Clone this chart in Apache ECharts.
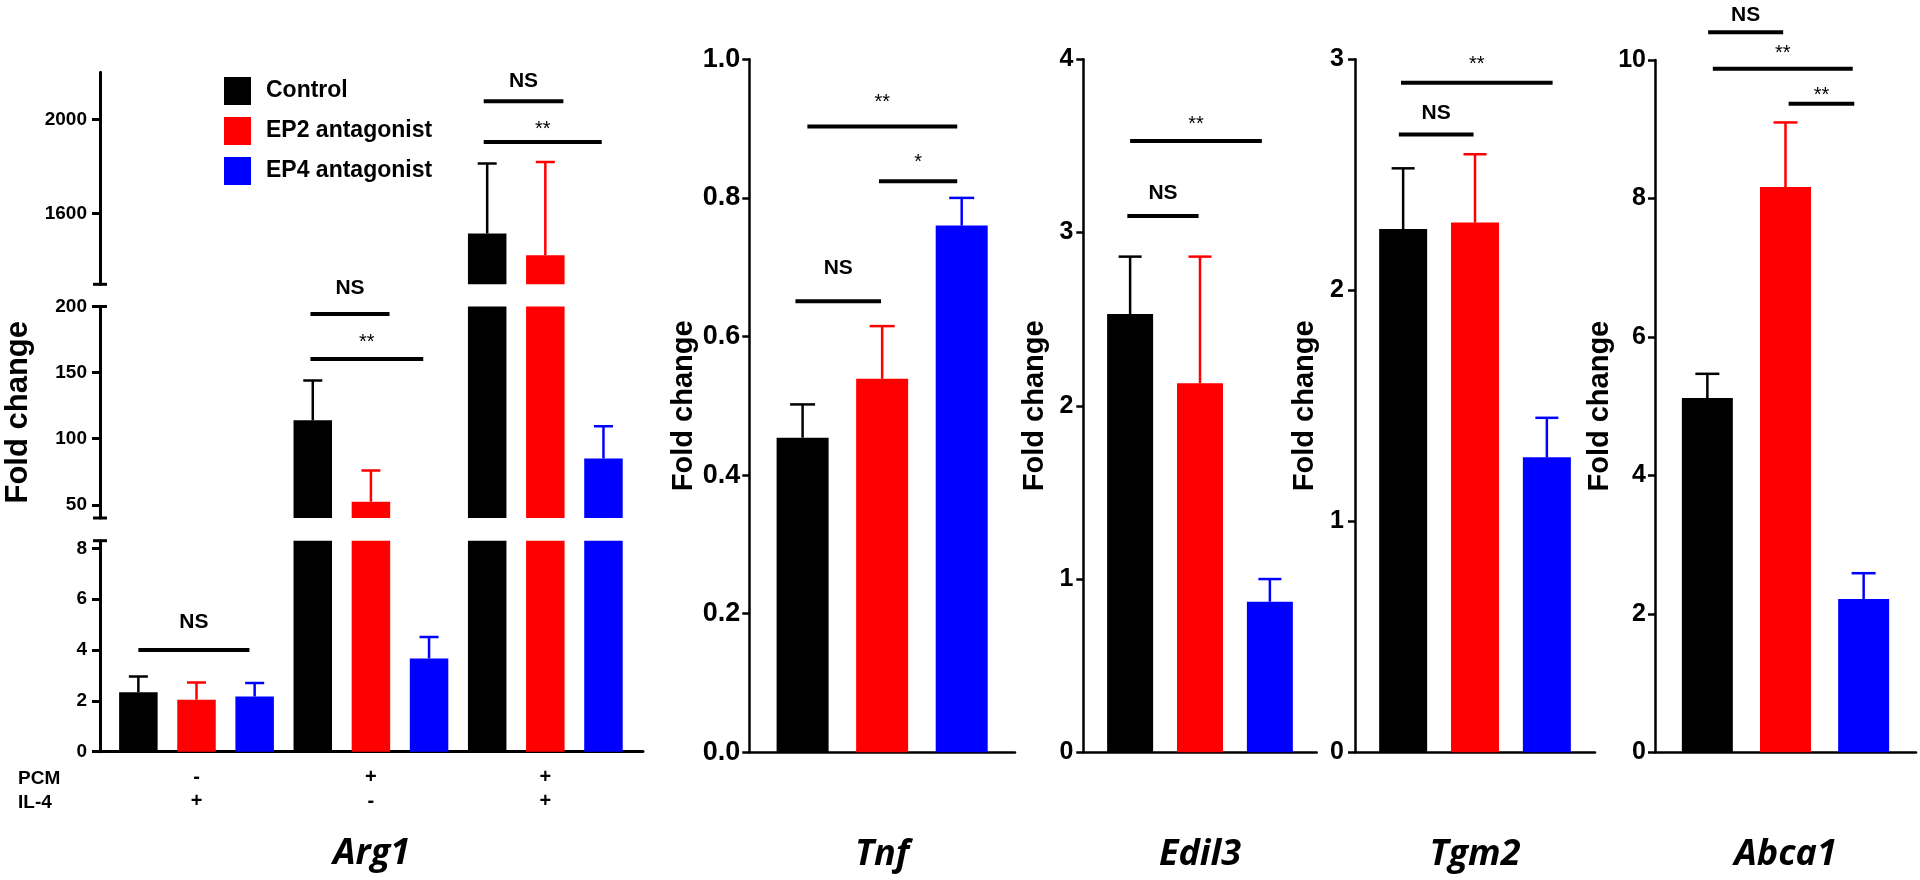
<!DOCTYPE html>
<html><head><meta charset="utf-8">
<script src="https://cdn.jsdelivr.net/npm/echarts@6/dist/echarts.min.js"></script>
<style>html,body{margin:0;padding:0;background:#fff}#c{width:1920px;height:880px}</style>
</head><body><div id="c"></div>
<script>
// ---------------- DATA ----------------
const groups = ['Control', 'EP2 antagonist', 'EP4 antagonist'];
const groupColors = ['#000000', '#ff0000', '#0000ff'];

// Arg1: three conditions (PCM/IL-4 combinations)
const pcmSigns = ['-', '+', '+'];
const il4Signs = ['+', '-', '+'];
const arg1Control = [2.34, 114, 1516];
const arg1EP2 = [2.04, 52.3, 1423];
const arg1EP4 = [2.17, 3.67, 85];
const arg1ControlErr = [2.96, 144, 1813];
const arg1EP2Err = [2.72, 76, 1819];
const arg1EP4Err = [2.70, 4.51, 109.5];
// broken axis segments and their ticks
const arg1HighRange = [1300, 2200];
const arg1MidRange = [40, 200];
const arg1LowRange = [0, 8.3];
const arg1HighTicks = [1600, 2000];
const arg1MidTicks = [50, 100, 150, 200];
const arg1LowTicks = [0, 2, 4, 6, 8];
// significance: [fromBar, toBar, lineValue, labelValue, text]
const arg1SigLow = [[0, 1.91, 4.0, 5.10, 'NS']];
const arg1SigMid = [[2.96, 4.32, 194.3, 213.8, 'NS'], [2.96, 4.90, 160.2, 176.5, '**']];
const arg1SigHigh = [[5.94, 7.31, 2077.6, 2162.4, 'NS'], [5.94, 7.97, 1903.7, 1978.8, '**']];

// Other genes: [Control, EP2 antagonist, EP4 antagonist]
const tnfMean = [0.454, 0.539, 0.760];
const tnfErr = [0.502, 0.615, 0.800];
const tnfSig = [[-0.09, 0.986, 0.651, 0.698, 'NS'], [0.06, 1.944, 0.903, 0.945, '**'], [0.96, 1.944, 0.824, 0.859, '*']];

const edil3Mean = [2.53, 2.13, 0.869];
const edil3Err = [2.861, 2.861, 1.0];
const edil3Sig = [[-0.04, 0.98, 3.096, 3.227, 'NS'], [0, 1.885, 3.528, 3.650, '**']];

const tgm2Mean = [2.265, 2.293, 1.277];
const tgm2Err = [2.528, 2.589, 1.448];
const tgm2Sig = [[-0.06, 0.98, 2.675, 2.768, 'NS'], [-0.03, 2.08, 2.899, 2.998, '**']];

const abca1Mean = [5.116, 8.165, 2.215];
const abca1Err = [5.467, 9.098, 2.587];
const abca1Sig = [[0.01, 0.97, 10.40, 10.65, 'NS'], [0.07, 1.86, 9.874, 10.17, '**'], [1.04, 1.88, 9.368, 9.56, '**']];

// ---------------- CHART ----------------
const FONT = '"Liberation Sans", Arial, Helvetica, sans-serif';
const GENEFONT = '"Open Sans", "Noto Sans", sans-serif';
const grids = [], xAxes = [], yAxes = [], series = [];

function addGrid(c) {
  const i = grids.length;
  grids.push({ left: c.left, top: c.top, width: c.width, height: c.height });
  xAxes.push({
    gridIndex: i, type: 'value', min: c.xMin, max: c.xMax,
    axisLine: { show: !!c.showX, onZero: false, lineStyle: { color: '#000', width: c.lw } },
    axisTick: { show: false }, axisLabel: { show: false }, splitLine: { show: false },
    name: c.gene || '', nameLocation: 'middle', nameGap: c.geneGap || 84,
    nameTextStyle: { fontFamily: GENEFONT, fontStyle: 'italic', fontWeight: 'bold', fontSize: 36, color: '#000' }
  });
  const y = {
    gridIndex: i, type: 'value', min: c.yMin, max: c.yMax,
    axisLine: { show: true, onZero: false, lineStyle: { color: '#000', width: c.lw } },
    axisTick: { show: true, inside: false, length: c.tickLen, lineStyle: { color: '#000', width: c.lw } },
    axisLabel: { show: true, color: '#000', fontFamily: FONT, fontWeight: 'bold', fontSize: c.labelSize, margin: c.labelMargin,
      formatter: c.fmt || (v => String(v)) },
    splitLine: { show: false },
    name: c.yName || '', nameLocation: 'middle', nameRotate: 90, nameGap: c.yNameGap || 40,
    nameTextStyle: { fontFamily: FONT, fontWeight: 'bold', fontSize: c.yNameSize || 29, color: '#000' }
  };
  if (c.interval != null) y.interval = c.interval;
  if (c.ticks) {
    y.axisTick.customValues = c.ticks;
    y.axisLabel.customValues = c.ticks;
  }
  yAxes.push(y);
  return i;
}

function errRender(capPx, color) {
  return function (params, api) {
    const x = api.value(0);
    const p0 = api.coord([x, api.value(1)]);
    const p1 = api.coord([x, api.value(2)]);
    return { type: 'group', children: [
      { type: 'line', shape: { x1: p0[0], y1: p0[1], x2: p1[0], y2: p1[1] }, style: { stroke: color, lineWidth: 2.5 } },
      { type: 'line', shape: { x1: p1[0] - capPx / 2, y1: p1[1], x2: p1[0] + capPx / 2, y2: p1[1] }, style: { stroke: color, lineWidth: 2.5 } }
    ] };
  };
}

function sigRender(list) {
  return function (params, api) {
    const d = list[params.dataIndex];
    const a = api.coord([d[0], d[2]]), b = api.coord([d[1], d[2]]);
    const t = api.coord([(d[0] + d[1]) / 2, d[3]]);
    const star = d[4].indexOf('*') >= 0;
    return { type: 'group', children: [
      { type: 'line', shape: { x1: a[0], y1: a[1], x2: b[0], y2: b[1] }, style: { stroke: '#000', lineWidth: 4 } },
      { type: 'text', x: t[0], y: t[1] + (star ? 5 : 0),
        style: { text: d[4], fill: '#000', font: (star ? '' : 'bold ') + (star ? 20 : 21) + 'px ' + FONT, align: 'center', verticalAlign: 'middle' } }
    ] };
  };
}

function addBars(gi, xs, means, errs, g, barPx, capPx, clip) {
  series.push({
    type: 'bar', name: groups[g], xAxisIndex: gi, yAxisIndex: gi,
    data: xs.map((x, k) => [x, means[k]]), barWidth: barPx, barGap: '-100%',
    itemStyle: { color: groupColors[g] }, clip: true, silent: true, z: 2
  });
  series.push({
    type: 'custom', name: groups[g], xAxisIndex: gi, yAxisIndex: gi,
    data: xs.map((x, k) => [x, means[k], errs[k]]),
    renderItem: errRender(capPx, groupColors[g]), clip: clip, silent: true, z: 3
  });
}

function addSig(gi, list) {
  series.push({
    type: 'custom', xAxisIndex: gi, yAxisIndex: gi,
    data: list.map(d => [d[0], d[2]]), renderItem: sigRender(list), clip: false, silent: true, z: 4
  });
}

function addCaps(gi, xMin, values) {
  series.push({
    type: 'custom', xAxisIndex: gi, yAxisIndex: gi, data: values.map(v => [xMin, v]),
    renderItem: function (params, api) {
      const p = api.coord([api.value(0), api.value(1)]);
      return { type: 'line', shape: { x1: p[0] - 7, y1: p[1], x2: p[0] + 7, y2: p[1] }, style: { stroke: '#000', lineWidth: 3 } };
    }, clip: false, silent: true, z: 5
  });
}

// ---- Arg1 (broken axis = three stacked grids) ----
const A_XMIN = -0.66, A_XMAX = 8.68;
const arg1Means = [arg1Control, arg1EP2, arg1EP4];
const arg1Errs = [arg1ControlErr, arg1EP2Err, arg1EP4Err];
const arg1Segments = [
  { range: arg1HighRange, ticks: arg1HighTicks, top: 72.3, height: 212, sig: arg1SigHigh, caps: [arg1HighRange[0]] },
  { range: arg1MidRange, ticks: arg1MidTicks, top: 306.5, height: 211.5, sig: arg1SigMid, caps: [arg1MidRange[1], arg1MidRange[0]], yName: 'Fold change' },
  { range: arg1LowRange, ticks: arg1LowTicks, top: 540.7, height: 211, sig: arg1SigLow, caps: [arg1LowRange[1]], showX: true, gene: 'Arg1' }
];
let arg1LowIndex = 0;
arg1Segments.forEach(s => {
  const gi = addGrid({ left: 100, top: s.top, width: 543, height: s.height, xMin: A_XMIN, xMax: A_XMAX,
    yMin: s.range[0], yMax: s.range[1], ticks: s.ticks, lw: 3, tickLen: 8, labelSize: 19, labelMargin: 13,
    showX: s.showX, gene: s.gene, geneGap: 84, yName: s.yName, yNameGap: 66, yNameSize: 31 });
  for (let g = 0; g < 3; g++) {
    const xs = arg1Means[g].map((v, c) => c * 3 + g);
    addBars(gi, xs, arg1Means[g], arg1Errs[g], g, 38.5, 19, true);
  }
  addSig(gi, s.sig);
  addCaps(gi, A_XMIN, s.caps);
  if (s.showX) arg1LowIndex = gi;
});
// PCM / IL-4 sign rows under Arg1
series.push({
  type: 'custom', xAxisIndex: arg1LowIndex, yAxisIndex: arg1LowIndex,
  data: pcmSigns.map((s, c) => [c * 3 + 1, 0]), clip: false, silent: true,
  renderItem: function (params, api) {
    const p = api.coord([api.value(0), api.value(1)]);
    const st = { fill: '#000', font: 'bold 20px ' + FONT, align: 'center', verticalAlign: 'middle' };
    return { type: 'group', children: [
      { type: 'text', x: p[0], y: p[1] + 26, style: Object.assign({ text: pcmSigns[params.dataIndex] }, st) },
      { type: 'text', x: p[0], y: p[1] + 50, style: Object.assign({ text: il4Signs[params.dataIndex] }, st) }
    ] };
  }
});

// ---- single-axis genes ----
const genePanels = [
  { gene: 'Tnf', mean: tnfMean, err: tnfErr, sig: tnfSig, left: 749.3, width: 265.7, top: 59.3, height: 693, yMax: 1, interval: 0.2,
    fmt: v => v.toFixed(1), labelSize: 27, labelMargin: 9, bar: 52, cap: 25, yNameGap: 50 },
  { gene: 'Edil3', mean: edil3Mean, err: edil3Err, sig: edil3Sig, left: 1083.3, width: 233.4, top: 59.3, height: 693, yMax: 4, interval: 1,
    labelSize: 25, labelMargin: 10, bar: 46, cap: 23, yNameGap: 34 },
  { gene: 'Tgm2', mean: tgm2Mean, err: tgm2Err, sig: tgm2Sig, left: 1355, width: 240, top: 59.3, height: 693, yMax: 3, interval: 1,
    labelSize: 25, labelMargin: 11, bar: 48, cap: 23, yNameGap: 36 },
  { gene: 'Abca1', mean: abca1Mean, err: abca1Err, sig: abca1Sig, left: 1655, width: 261, top: 60, height: 692.3, yMax: 10, interval: 2,
    labelSize: 25, labelMargin: 9, bar: 51, cap: 24, yNameGap: 38 }
];
genePanels.forEach(p => {
  const gi = addGrid({ left: p.left, top: p.top, width: p.width, height: p.height, xMin: -0.67, xMax: 2.67,
    yMin: 0, yMax: p.yMax, interval: p.interval, fmt: p.fmt, lw: 2.5, tickLen: 7, labelSize: p.labelSize,
    labelMargin: p.labelMargin, showX: true, gene: p.gene, geneGap: 84, yName: 'Fold change', yNameGap: p.yNameGap, yNameSize: 29 });
  for (let g = 0; g < 3; g++) addBars(gi, [g], [p.mean[g]], [p.err[g]], g, p.bar, p.cap, false);
  addSig(gi, p.sig);
});

const chart = echarts.init(document.getElementById('c'));
chart.setOption({
  animation: false,
  backgroundColor: '#fff',
  grid: grids, xAxis: xAxes, yAxis: yAxes, series: series,
  legend: {
    data: groups, orient: 'vertical', left: 224, top: 77, padding: 0,
    itemWidth: 27, itemHeight: 28, itemGap: 12, icon: 'rect', selectedMode: false,
    textStyle: { fontFamily: FONT, fontWeight: 'bold', fontSize: 23, color: '#000', padding: [0, 0, 0, 10] }
  },
  graphic: [
    { type: 'text', left: 18, top: 769, style: { text: 'PCM', font: 'bold 19px ' + FONT, fill: '#000' } },
    { type: 'text', left: 18, top: 793, style: { text: 'IL-4', font: 'bold 19px ' + FONT, fill: '#000' } }
  ]
});
</script>
</body></html>
